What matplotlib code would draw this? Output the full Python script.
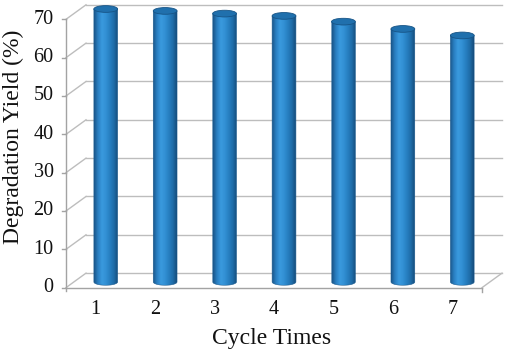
import numpy as np
import matplotlib
matplotlib.use("Agg")
import matplotlib.pyplot as plt
from matplotlib.transforms import ScaledTranslation
from matplotlib.patches import Polygon, Ellipse
from matplotlib.lines import Line2D
from matplotlib.colors import LinearSegmentedColormap

# ---- data ----
categories = ["1", "2", "3", "4", "5", "6", "7"]
yields = [70.8, 70.3, 69.6, 69.0, 67.5, 65.6, 63.9]
y_ticks = [0, 10, 20, 30, 40, 50, 60, 70]
x_label = "Cycle Times"
y_label = "Degradation Yield (%)"

plt.rcParams["font.family"] = ["Liberation Serif", "DejaVu Serif"]

fig = plt.figure(figsize=(5.05, 3.51), dpi=100)
ax = fig.add_axes([0.1505, 0.1684, 0.8238, 0.830])
ax.axis("off")
ax.set_xlim(0.5, len(categories) + 0.5)
ax.set_ylim(-3, 73)

DX, DY = 0.10, 0.0725  # half depth offset in inches


def off(dx, dy):
    return ax.transData + ScaledTranslation(dx, dy, fig.dpi_scale_trans)


back = off(DX, DY)
front = off(-DX, -DY)
x0, x1 = 0.5, len(categories) + 0.5
grid_c = "#bdbdbd"
axis_c = "#a3a3a3"


def seg(t1, p1, t2, p2, color, lw=1.0):
    a = t1.transform(p1)
    b = t2.transform(p2)
    ax.add_line(Line2D([a[0], b[0]], [a[1], b[1]], transform=None, color=color,
                       lw=lw, clip_on=False, zorder=1))


# back wall gridlines, left wall diagonals, ticks, labels
for v in y_ticks:
    ax.plot([x0, x1], [v, v], color=grid_c, lw=1.0, transform=back, clip_on=False, zorder=1)
    seg(front, (x0, v), back, (x0, v), grid_c)
    seg(off(-DX - 0.045, -DY), (x0, v), front, (x0, v), axis_c)
    ax.text(x0, v, str(v), transform=off(-DX - 0.125, -DY), ha="right", va="center",
            fontsize=14.5, color="#111111")

# floor: front edge and right diagonal
ax.plot([x0, x1], [0, 0], color=axis_c, lw=1.0, transform=front, clip_on=False, zorder=1)
seg(front, (x1, 0), back, (x1, 0), grid_c)
# front vertical axis
ax.plot([x0, x0], [-0.8, y_ticks[-1]], color=axis_c, lw=1.0, transform=front, clip_on=False, zorder=1)
ax.plot([x1, x1], [-1.2, 0], color=axis_c, lw=1.0, transform=front, clip_on=False, zorder=1)

# category labels
for i, c in enumerate(categories):
    ax.text(i + 1, 0, c, transform=off(-DX, -DY - 0.215), ha="center", va="center",
            fontsize=14.5, color="#111111")

# cylinders
cmap = LinearSegmentedColormap.from_list(
    "cyl", ["#1a5689", "#2a80c3", "#3a9ade", "#3290d4", "#277fc1", "#1f6da9", "#164d7c"])
grad = np.linspace(0, 1, 64).reshape(1, -1)
hw = 0.2
eh = 1.75
t = np.linspace(np.pi, 2 * np.pi, 40)
for i, v in enumerate(yields):
    xc = i + 1
    ex = xc + hw * np.cos(t)
    ey = -0.4 + (eh / 2) * np.sin(t)
    pts = [(xc - hw, v)] + list(zip(ex, ey)) + [(xc + hw, v)]
    poly = Polygon(pts, closed=True, facecolor="none", edgecolor="#1a5a8e", lw=0.4, zorder=4)
    ax.add_patch(poly)
    im = ax.imshow(grad, extent=(xc - hw, xc + hw, -0.4 - eh / 2, v), aspect="auto", cmap=cmap,
                   zorder=3, interpolation="bilinear")
    im.set_clip_path(poly)
    top = Ellipse((xc, v), 2 * hw, eh, facecolor="#2070ad", edgecolor="#175486", lw=0.6, zorder=5)
    ax.add_patch(top)

ax.set_xlim(0.5, len(categories) + 0.5)
ax.set_ylim(-3, 73)

fig.text(0.5386, 0.019, x_label, ha="center", va="baseline", fontsize=17, color="#111111")
fig.text(0.026, 0.609, y_label, ha="center", va="center", rotation=90, fontsize=17, color="#111111")

fig.savefig("out.png", dpi=100, facecolor="white")
